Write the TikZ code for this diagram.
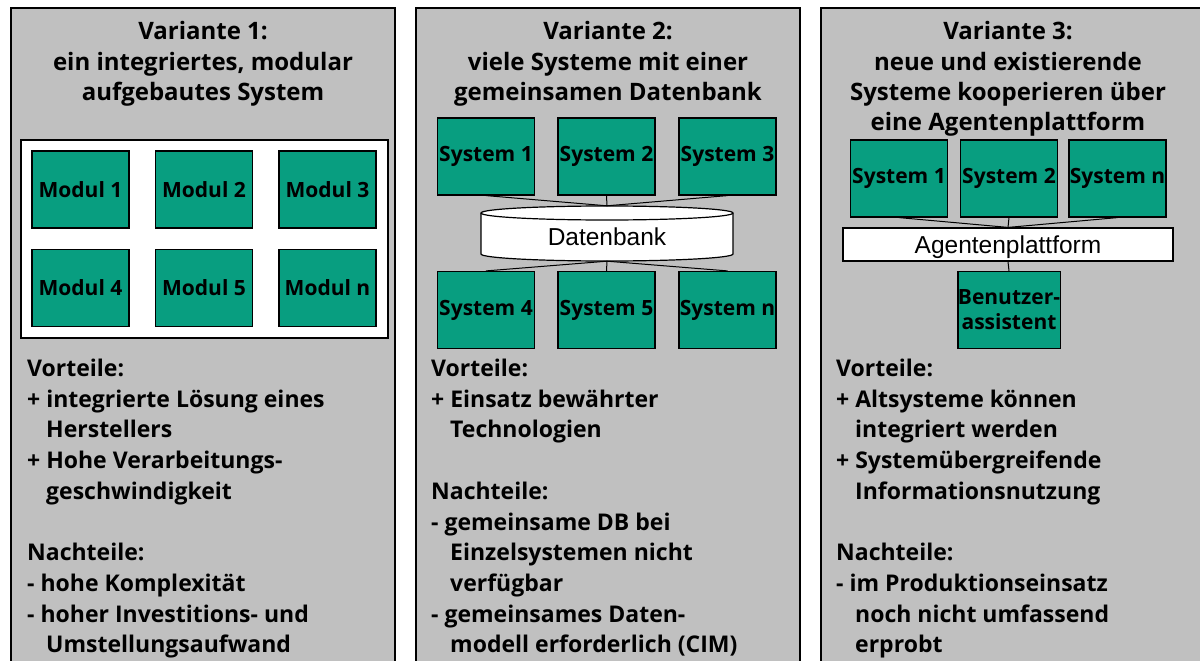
\documentclass[tikz,border=0pt]{standalone}
\usepackage{fontspec}
\setmainfont{Open Sans}
\newfontfamily\arialfont{Liberation Sans}
\definecolor{modgreen}{RGB}{8,158,128}
\definecolor{panelgray}{RGB}{192,192,192}
\newcommand\contind{\hspace*{19pt}}

\begin{document}
\begin{tikzpicture}[x=1pt, y=-1pt,
    panelbox/.style={draw=black, line width=2pt, fill=panelgray},
    sysbox/.style={draw=black, line width=1.2pt, fill=modgreen,
        minimum width=97pt, minimum height=77pt, inner sep=0pt,
        align=center, font=\bfseries\fontsize{21}{25}\selectfont},
    platform/.style={draw=black, line width=1.2pt, fill=white,
        minimum width=330pt, minimum height=33pt, inner sep=0pt,
        text height=17.6pt, text depth=0pt,
        font=\arialfont\fontsize{24.5}{26}\selectfont},
    dbnode/.style={minimum width=252pt, minimum height=55pt, inner sep=0pt,
        text height=23pt, text depth=0pt,
        font=\arialfont\fontsize{24.5}{26}\selectfont},
    edge/.style={line width=1pt, -},
    headline/.style={anchor=base, inner sep=0pt,
        font=\bfseries\fontsize{24}{30}\selectfont},
    listline/.style={anchor=base west, inner sep=0pt,
        font=\bfseries\fontsize{23}{30}\selectfont}
]
    \useasboundingbox (0,0) rectangle (1200,661);
    \clip (0,0) rectangle (1200,661);

    % panels
    \path[panelbox] (11,8) rectangle (395,680);
    \path[panelbox] (416,8) rectangle (800,680);
    \path[panelbox] (821,8) rectangle (1205,680);

    % Variante 1
    \foreach \k/\txt in {0/Variante 1:, 1/{ein integriertes, modular}, 2/aufgebautes System}
        \node[headline] (h1-\k) at (203,{40+30.3*\k}) {\txt};
    \draw[line width=1.2pt, fill=white] (21,140) rectangle (388,338);
    \node[sysbox] (mod1) at (80.5,189.5) {Modul 1};
    \node[sysbox] (mod2) at (204,189.5) {Modul 2};
    \node[sysbox] (mod3) at (327.5,189.5) {Modul 3};
    \node[sysbox] (mod4) at (80.5,288) {Modul 4};
    \node[sysbox] (mod5) at (204,288) {Modul 5};
    \node[sysbox] (modn) at (327.5,288) {Modul n};
    \foreach \k/\txt in {0/Vorteile:, 1/+ integrierte Lösung eines,
        2/\contind Herstellers, 3/+ Hohe Verarbeitungs-, 4/\contind geschwindigkeit,
        6/Nachteile:, 7/- hohe Komplexität, 8/- hoher Investitions- und,
        9/\contind Umstellungsaufwand}
        \node[listline] (l1-\k) at (27,{376.5+30.7*\k}) {\txt};

    % Variante 2
    \foreach \k/\txt in {0/Variante 2:, 1/viele Systeme mit einer, 2/gemeinsamen Datenbank}
        \node[headline] (h2-\k) at (608,{40+30.3*\k}) {\txt};
    \node[sysbox] (sys1) at (486,156.5) {System 1};
    \node[sysbox] (sys2) at (606.5,156.5) {System 2};
    \node[sysbox] (sys3) at (727.5,156.5) {System 3};
    \node[sysbox] (sys4) at (486,310) {System 4};
    \node[sysbox] (sys5) at (606.5,310) {System 5};
    \node[sysbox] (sysn) at (727.5,310) {System n};
    \draw[line width=1.2pt, fill=white] (481,213) -- (481,254)
        arc[start angle=180, end angle=0, x radius=126, y radius=7] -- (733,213)
        arc[start angle=0, end angle=-180, x radius=126, y radius=7] -- cycle;
    \draw[line width=1.2pt] (481,213)
        arc[start angle=180, end angle=0, x radius=126, y radius=7];
    \node[dbnode] (db) at (607,233.5) {Datenbank};
    \draw[edge] (sys1.south) -- (db.north);
    \draw[edge] (sys2.south) -- (db.north);
    \draw[edge] (sys3.south) -- (db.north);
    \draw[edge] (db.south) -- (sys4.north);
    \draw[edge] (db.south) -- (sys5.north);
    \draw[edge] (db.south) -- (sysn.north);
    \foreach \k/\txt in {0/Vorteile:, 1/+ Einsatz bewährter, 2/\contind Technologien,
        4/Nachteile:, 5/- gemeinsame DB bei, 6/\contind Einzelsystemen nicht,
        7/\contind verfügbar, 8/- gemeinsames Daten-,
        9/\contind modell erforderlich (CIM)}
        \node[listline] (l2-\k) at (431,{376.5+30.7*\k}) {\txt};

    % Variante 3
    \foreach \k/\txt in {0/Variante 3:, 1/neue und existierende,
        2/Systeme kooperieren über, 3/eine Agentenplattform}
        \node[headline] (h3-\k) at (1008,{40+30.3*\k}) {\txt};
    \node[sysbox] (agt1) at (899,178.5) {System 1};
    \node[sysbox] (agt2) at (1009,178.5) {System 2};
    \node[sysbox] (agtn) at (1117.5,178.5) {System n};
    \node[platform] (ap) at (1008,244.5) {Agentenplattform};
    \node[sysbox] (assist) at (1009,310) {Benutzer-\\assistent};
    \draw[edge] (agt1.south) -- (ap.north);
    \draw[edge] (agt2.south) -- (ap.north);
    \draw[edge] (agtn.south) -- (ap.north);
    \draw[edge] (ap.south) -- (assist.north);
    \foreach \k/\txt in {0/Vorteile:, 1/+ Altsysteme können, 2/\contind integriert werden,
        3/+ Systemübergreifende, 4/\contind Informationsnutzung,
        6/Nachteile:, 7/- im Produktionseinsatz, 8/\contind noch nicht umfassend,
        9/\contind erprobt}
        \node[listline] (l3-\k) at (836,{376.5+30.7*\k}) {\txt};
\end{tikzpicture}
\end{document}
